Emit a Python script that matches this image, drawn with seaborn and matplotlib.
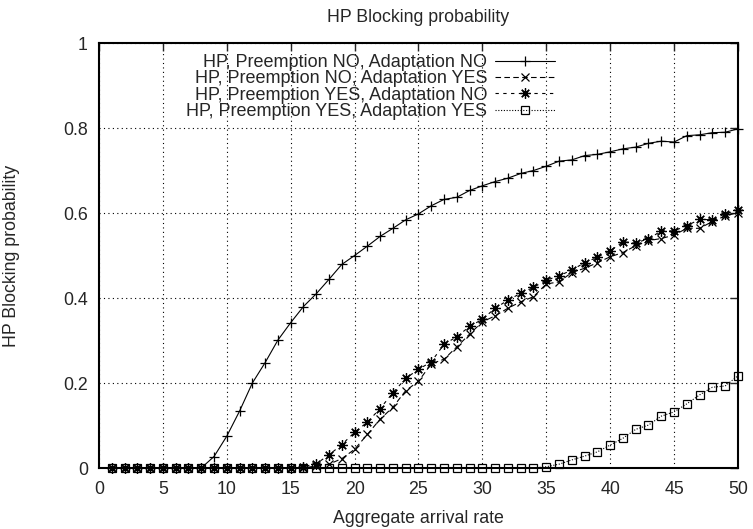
import numpy as np
import pandas as pd
import seaborn as sns
import matplotlib
matplotlib.use("Agg")
import matplotlib.pyplot as plt

# arrival rates 1..50
rate = list(range(1, 51))

# HP, Preemption NO, Adaptation NO
no_no = [0, 0, 0, 0, 0, 0, 0, 0, 0.027, 0.075, 0.134, 0.2, 0.248, 0.301, 0.342,
         0.38, 0.41, 0.444, 0.479, 0.5, 0.522, 0.545, 0.564, 0.584, 0.598,
         0.617, 0.632, 0.637, 0.653, 0.664, 0.674, 0.682, 0.693, 0.70, 0.71,
         0.722, 0.725, 0.735, 0.738, 0.744, 0.751, 0.755, 0.764, 0.769, 0.767,
         0.782, 0.784, 0.789, 0.79, 0.798]
# HP, Preemption NO, Adaptation YES
no_yes = [0] * 16 + [0.005, 0.009, 0.022, 0.044, 0.079, 0.115, 0.143, 0.182,
                     0.204, 0.245, 0.256, 0.285, 0.315, 0.344, 0.358, 0.376,
                     0.391, 0.403, 0.433, 0.438, 0.46, 0.47, 0.483, 0.497,
                     0.507, 0.523, 0.535, 0.54, 0.548, 0.564, 0.564, 0.58,
                     0.593, 0.601]
# HP, Preemption YES, Adaptation NO
yes_no = [0] * 15 + [0.003, 0.01, 0.031, 0.055, 0.084, 0.108, 0.14, 0.177,
                     0.211, 0.232, 0.25, 0.291, 0.309, 0.333, 0.35, 0.376,
                     0.395, 0.411, 0.425, 0.442, 0.452, 0.466, 0.483, 0.496,
                     0.511, 0.532, 0.53, 0.539, 0.558, 0.558, 0.57, 0.585,
                     0.584, 0.598, 0.607]
# HP, Preemption YES, Adaptation YES
yes_yes = [0] * 34 + [0.003, 0.009, 0.019, 0.028, 0.038, 0.054, 0.07, 0.091,
                      0.101, 0.122, 0.132, 0.151, 0.172, 0.19, 0.193, 0.217]

labels = ["HP, Preemption NO, Adaptation NO",
          "HP, Preemption NO, Adaptation YES",
          "HP, Preemption YES, Adaptation NO",
          "HP, Preemption YES, Adaptation YES"]

sns.set_style("white")
plt.rcParams['font.family'] = ['Liberation Sans', 'DejaVu Sans']
fs = 12.8

fig = plt.figure(figsize=(7.53, 5.29), dpi=100)
ax = fig.add_axes([0.1315, 0.1153, 0.8485, 0.8034])

common = dict(ax=ax, color='black', lw=0.8, mec='black', mew=0.9,
              clip_on=False, zorder=3)
sns.lineplot(x=rate, y=no_no, marker='+', markersize=7, label=labels[0], **common)
sns.lineplot(x=rate, y=no_yes, linestyle=(0, (5, 3)), marker='x', markersize=6,
             label=labels[1], **common)
sns.lineplot(x=rate, y=yes_no, linestyle=(0, (3, 4)), marker=(8, 2, 0),
             markersize=7.5, label=labels[2], **common)
sns.lineplot(x=rate, y=yes_yes, linestyle=(0, (1, 1.5)), marker='s',
             markersize=5.5, mfc='none', label=labels[3], **common)

ax.set_xlim(0, 50)
ax.set_ylim(0, 1)
ax.set_xticks(range(0, 51, 5))
ax.set_yticks([0, 0.2, 0.4, 0.6, 0.8, 1])
ax.set_yticklabels(["0", "0.2", "0.4", "0.6", "0.8", "1"])
ax.grid(True, color='black', linestyle=(0, (1, 3)), lw=0.8)
ax.tick_params(direction='in', length=6, width=1, top=True, right=True,
               labelsize=fs)
ax.tick_params(axis='y', pad=8)
ax.tick_params(axis='x', pad=9)
for s in ax.spines.values():
    s.set_linewidth(1.5)
    s.set_color('black')

ax.set_title("HP Blocking probability", fontsize=fs, pad=15)
ax.set_xlabel("Aggregate arrival rate", fontsize=fs, labelpad=9)
ax.set_ylabel("HP Blocking probability", fontsize=fs)
ax.yaxis.set_label_coords(-0.124, 0.5)

ax.legend(loc='upper right', bbox_to_anchor=(0.7136, 0.974), frameon=False,
          markerfirst=False, fontsize=13, handlelength=3.3, handletextpad=0.45,
          labelspacing=-0.04, borderpad=0, borderaxespad=0)

fig.savefig("out.png", dpi=100)
